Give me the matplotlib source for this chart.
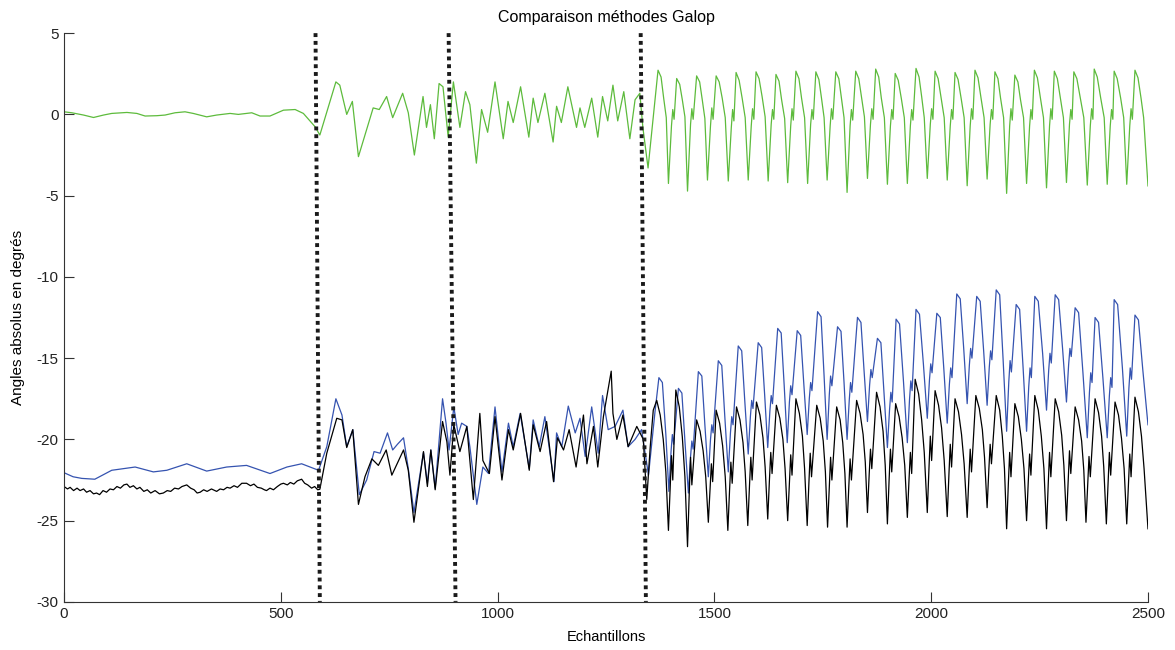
import matplotlib
matplotlib.use("Agg")
import matplotlib.pyplot as plt

# ---- data (samples, degrees) ----
# green: calm phase, transition phase, gallop phase
green_x_calm = [0, 18, 45, 68, 91, 110, 145, 168, 187, 214, 233, 256, 279, 298, 329, 352,
                383, 402, 433, 452, 475, 506, 533, 552, 579, 590]
green_y_calm = [0.16, 0.10, -0.04, -0.19, -0.04, 0.06, 0.12, 0.06, -0.10, -0.08, -0.04, 0.10,
                0.16, 0.06, -0.15, -0.04, 0.06, 0.0, 0.10, -0.10, -0.10, 0.26, 0.30, 0.06, -0.76, -1.27]

green_x_mid = [627, 636, 652, 665, 679, 713, 727, 744, 758, 781, 794, 808, 828, 836, 845, 854,
               865, 874, 886, 898, 906, 913, 926, 936, 951, 963, 977, 994, 1013, 1024, 1036,
               1053, 1072, 1082, 1093, 1109, 1128, 1136, 1147, 1162, 1182, 1190, 1201, 1217,
               1231, 1242, 1254, 1266, 1277, 1291, 1305, 1317, 1328, 1335, 1347]
green_y_mid = [2.0, 1.8, 0.0, 0.8, -2.6, 0.4, 0.3, 1.1, -0.2, 1.3, 0.1, -2.5, 1.1, -0.8, 0.6, -1.5,
               1.9, 1.7, -1.4, 2.0, 0.5, -0.8, 1.4, 0.6, -3.0, 0.3, -1.1, 2.0, -1.5, 0.8, -0.5,
               1.7, -1.4, 1.0, -0.5, 1.3, -1.7, 0.5, -0.5, 1.7, -0.8, 0.4, -0.8, 1.0,
               -1.4, 1.1, -0.4, 1.8, -0.4, 1.4, -1.5, 0.9, 1.3, -0.8, -3.3]

green_x_gallop = [
    1370, 1377, 1383, 1389, 1394, 1401, 1404, 1407,
    1413, 1420, 1426, 1432, 1438, 1445, 1448, 1451,
    1459, 1466, 1472, 1478, 1484, 1491, 1494, 1497,
    1504, 1511, 1518, 1525, 1532, 1539, 1542, 1545,
    1550, 1557, 1564, 1571, 1578, 1585, 1588, 1591,
    1596, 1603, 1610, 1617, 1624, 1631, 1634, 1637,
    1642, 1649, 1655, 1662, 1669, 1676, 1679, 1682,
    1688, 1695, 1701, 1708, 1715, 1722, 1725, 1728,
    1734, 1741, 1747, 1753, 1760, 1767, 1770, 1773,
    1780, 1787, 1793, 1799, 1806, 1813, 1816, 1819,
    1826, 1833, 1839, 1846, 1853, 1860, 1863, 1866,
    1872, 1879, 1885, 1892, 1899, 1906, 1909, 1912,
    1917, 1924, 1931, 1938, 1945, 1952, 1955, 1958,
    1965, 1972, 1978, 1984, 1991, 1998, 2001, 2004,
    2009, 2016, 2023, 2030, 2037, 2044, 2047, 2050,
    2055, 2062, 2069, 2076, 2083, 2090, 2093, 2096,
    2101, 2108, 2115, 2122, 2129, 2136, 2139, 2142,
    2147, 2154, 2160, 2167, 2174, 2181, 2184, 2187,
    2193, 2200, 2206, 2213, 2220, 2227, 2230, 2233,
    2238, 2245, 2252, 2259, 2266, 2273, 2276, 2279,
    2284, 2291, 2298, 2305, 2312, 2319, 2322, 2325,
    2329, 2336, 2344, 2352, 2360, 2367, 2370, 2373,
    2376, 2383, 2391, 2399, 2406, 2413, 2416, 2419,
    2422, 2429, 2437, 2444, 2451, 2458, 2461, 2464,
    2470, 2477, 2484, 2490, 2500]
green_y_gallop = [
    2.72, 2.30, 1.00, -0.20, -4.25, -0.70, 0.30, -0.30,
    2.21, 1.85, 0.90, -0.15, -4.72, -0.60, 0.35, -0.30,
    2.37, 2.00, 0.90, -0.25, -4.04, -0.70, 0.40, -0.30,
    2.37, 2.00, 1.00, -0.20, -4.10, -0.80, 0.30, -0.40,
    2.58, 2.10, 1.00, -0.20, -4.04, -0.70, 0.35, -0.30,
    2.62, 2.20, 1.10, -0.15, -4.10, -0.60, 0.30, -0.30,
    2.46, 2.05, 0.90, -0.25, -4.20, -0.70, 0.35, -0.35,
    2.66, 2.20, 1.00, -0.20, -4.25, -0.60, 0.30, -0.30,
    2.62, 2.15, 1.00, -0.20, -4.04, -0.70, 0.35, -0.30,
    2.62, 2.20, 1.00, -0.20, -4.80, -0.70, 0.30, -0.35,
    2.66, 2.20, 1.10, -0.15, -3.94, -0.60, 0.35, -0.30,
    2.79, 2.30, 1.00, -0.20, -4.30, -0.70, 0.30, -0.30,
    2.52, 2.10, 1.00, -0.20, -4.25, -0.70, 0.30, -0.35,
    2.83, 2.30, 1.10, -0.20, -3.94, -0.60, 0.35, -0.30,
    2.66, 2.20, 1.00, -0.20, -4.04, -0.70, 0.30, -0.30,
    2.58, 2.15, 1.00, -0.20, -4.39, -0.70, 0.35, -0.30,
    2.72, 2.25, 1.00, -0.20, -3.98, -0.60, 0.30, -0.30,
    2.62, 2.20, 1.00, -0.20, -4.86, -0.70, 0.35, -0.35,
    2.42, 2.00, 0.90, -0.20, -4.25, -0.70, 0.30, -0.30,
    2.72, 2.25, 1.00, -0.20, -4.52, -0.70, 0.35, -0.30,
    2.66, 2.20, 1.00, -0.20, -4.19, -0.60, 0.30, -0.30,
    2.62, 2.20, 1.00, -0.20, -4.35, -0.70, 0.35, -0.30,
    2.79, 2.30, 1.00, -0.20, -4.30, -0.70, 0.30, -0.30,
    2.66, 2.20, 1.00, -0.20, -4.30, -0.70, 0.35, -0.30,
    2.72, 2.25, 1.00, -0.20, -4.40]

# blue
blue_x_calm = [0, 21, 41, 71, 110, 164, 206, 237, 283, 329, 375, 421, 475, 514, 548, 587]
blue_y_calm = [-22.05, -22.3, -22.4, -22.45, -21.9, -21.7, -22.0, -21.9, -21.5, -21.95,
               -21.7, -21.6, -22.1, -21.7, -21.5, -21.9]

blue_x_mid = [606, 627, 641, 652, 666, 681, 698, 715, 729, 746, 758, 769, 783, 794, 807, 829,
              838, 846, 856, 873, 881, 888, 899, 909, 917, 929, 936, 952, 966, 979, 994, 1010,
              1025, 1036, 1052, 1073, 1082, 1096, 1109, 1130, 1136, 1148, 1163, 1179, 1190,
              1202, 1217, 1232, 1242, 1255, 1271, 1289, 1301, 1317, 1332, 1348, 1363]
blue_y_mid = [-20.45, -17.5, -18.5, -20.45, -19.4, -23.4, -22.5, -20.75, -20.85, -19.6, -20.65,
              -20.3, -19.9, -21.8, -24.5, -20.8, -22.7, -20.65, -23.0, -17.5, -19.0, -20.65,
              -18.0, -19.7, -19.0, -19.2, -20.45, -24.0, -21.7, -22.1, -18.0, -22.0, -19.0,
              -20.45, -18.4, -21.8, -18.8, -20.45, -18.6, -22.6, -19.6, -20.45, -17.95,
              -19.6, -18.7, -21.05, -18.0, -20.85, -17.3, -19.4, -19.2, -18.2, -20.45,
              -20.0, -19.4, -22.2, -18.3]

blue_x_gallop = [
    1372, 1380, 1388, 1395, 1400, 1403, 1406,
    1417, 1425, 1432, 1440, 1445, 1448, 1451,
    1463, 1471, 1478, 1486, 1491, 1494, 1497,
    1509, 1517, 1524, 1532, 1537, 1540, 1543,
    1555, 1563, 1570, 1578, 1583, 1586, 1589,
    1601, 1609, 1616, 1623, 1628, 1631, 1634,
    1646, 1654, 1661, 1668, 1673, 1676, 1679,
    1691, 1699, 1706, 1714, 1719, 1722, 1725,
    1738, 1746, 1753, 1760, 1765, 1768, 1771,
    1784, 1792, 1799, 1806, 1811, 1814, 1817,
    1830, 1838, 1845, 1853, 1858, 1861, 1864,
    1876, 1884, 1891, 1899, 1904, 1907, 1910,
    1919, 1927, 1936, 1945, 1950, 1953, 1956,
    1965, 1973, 1982, 1991, 1996, 1999, 2002,
    2013, 2021, 2029, 2037, 2042, 2045, 2048,
    2059, 2067, 2075, 2083, 2088, 2091, 2094,
    2105, 2113, 2121, 2129, 2134, 2137, 2140,
    2150, 2158, 2166, 2174, 2179, 2182, 2185,
    2196, 2204, 2212, 2220, 2225, 2228, 2231,
    2239, 2247, 2257, 2266, 2271, 2274, 2277,
    2286, 2294, 2303, 2312, 2317, 2320, 2323,
    2332, 2340, 2350, 2360, 2365, 2368, 2371,
    2378, 2386, 2396, 2406, 2411, 2414, 2417,
    2422, 2430, 2441, 2451, 2456, 2459, 2462,
    2470, 2478, 2488, 2500]
blue_y_gallop = [
    -16.2, -16.5, -19.7, -23.2, -20.75, -19.7, -20.3,
    -16.86, -17.15, -20.1, -23.3, -21.05, -20.1, -20.6,
    -15.83, -16.1, -19.1, -22.3, -20.0, -19.1, -19.6,
    -15.16, -15.45, -18.6, -22.0, -19.6, -18.6, -19.1,
    -14.25, -14.55, -17.6, -20.9, -18.6, -17.6, -18.1,
    -14.05, -14.35, -17.3, -20.5, -18.25, -17.3, -17.8,
    -13.17, -13.45, -16.7, -20.2, -17.7, -16.7, -17.25,
    -13.31, -13.6, -16.5, -19.7, -17.45, -16.5, -17.0,
    -12.14, -12.45, -16.1, -20.0, -17.25, -16.1, -16.7,
    -13.07, -13.35, -16.5, -20.0, -17.6, -16.5, -17.1,
    -12.49, -12.8, -15.7, -18.9, -16.65, -15.7, -16.2,
    -13.78, -14.05, -17.1, -20.5, -18.15, -17.1, -17.7,
    -12.6, -12.9, -16.4, -20.2, -17.55, -16.4, -17.0,
    -12.0, -12.3, -15.35, -18.7, -16.35, -15.35, -15.9,
    -12.24, -12.5, -15.6, -19.0, -16.6, -15.6, -16.2,
    -11.05, -11.35, -14.4, -17.8, -15.45, -14.4, -15.0,
    -11.2, -11.5, -14.55, -17.9, -15.55, -14.55, -15.1,
    -10.8, -11.1, -15.15, -19.5, -16.45, -15.15, -15.85,
    -11.7, -12.0, -15.6, -19.5, -16.75, -15.6, -16.2,
    -11.2, -11.5, -14.7, -18.2, -15.75, -14.7, -15.3,
    -11.1, -11.4, -14.4, -17.7, -15.4, -14.4, -14.9,
    -11.9, -12.2, -15.9, -19.9, -17.1, -15.9, -16.5,
    -12.5, -12.8, -16.2, -19.9, -17.3, -16.2, -16.8,
    -11.4, -11.7, -15.6, -19.8, -16.85, -15.6, -16.3,
    -12.35, -12.65, -15.7, -19.1]

# black
black_x_calm = [0, 8, 14, 22, 30, 37, 45, 52, 60, 68, 75, 82, 90, 98, 106, 114, 122, 130, 138,
                145, 152, 160, 168, 175, 184, 192, 200, 210, 220, 229, 238, 246, 255, 264, 272,
                283, 292, 300, 307, 314, 322, 330, 340, 352, 360, 368, 376, 383, 392, 400, 410,
                421, 430, 438, 446, 455, 462, 467, 475, 483, 492, 500, 506, 515, 522, 530, 538,
                548, 555, 562, 571, 578, 585, 590]
black_y_calm = [-22.9, -23.05, -22.95, -23.15, -23.0, -23.15, -23.05, -23.25, -23.15, -23.35,
                -23.3, -23.4, -23.15, -23.25, -23.05, -23.1, -22.9, -23.0, -22.8, -22.75,
                -22.95, -22.85, -23.05, -22.95, -23.2, -23.1, -23.3, -23.15, -23.35, -23.3,
                -23.15, -23.2, -23.0, -23.05, -22.9, -22.8, -23.0, -23.1, -23.3, -23.25,
                -23.1, -23.2, -23.05, -23.2, -23.05, -23.1, -22.95, -23.0, -22.85, -22.95,
                -22.7, -22.7, -22.85, -22.75, -22.95, -23.0, -23.1, -23.15, -23.0, -23.1,
                -22.9, -22.75, -22.7, -22.8, -22.65, -22.75, -22.55, -22.45, -22.7, -22.8,
                -23.0, -22.9, -23.1, -23.07]

black_x_mid = [606, 629, 641, 652, 666, 679, 694, 710, 725, 743, 756, 783, 794, 807, 829, 838,
               846, 856, 873, 883, 890, 899, 913, 929, 944, 959, 966, 981, 994, 1010, 1025,
               1036, 1053, 1073, 1082, 1098, 1113, 1129, 1138, 1152, 1165, 1181, 1198, 1206,
               1221, 1231, 1244, 1262, 1266, 1275, 1289, 1301, 1321, 1336, 1344, 1352, 1359]
black_y_mid = [-20.85, -18.7, -18.8, -20.5, -19.4, -24.0, -22.3, -21.2, -21.6, -20.65, -22.2,
               -20.65, -21.9, -25.1, -20.75, -22.9, -20.65, -23.1, -18.9, -20.15, -22.2, -19.1,
               -20.75, -19.2, -23.7, -18.4, -21.3, -22.1, -18.6, -22.5, -19.4, -20.65, -18.4,
               -21.9, -19.1, -20.75, -18.9, -22.6, -19.9, -20.65, -19.4, -21.7, -18.5, -21.5,
               -19.2, -21.7, -18.6, -15.8, -18.4, -20.0, -18.5, -20.45, -19.2, -20.0, -23.7,
               -20.45, -18.2]

black_x_gallop = [
    1367, 1375, 1382, 1388, 1394, 1398, 1401, 1404,
    1411, 1419, 1426, 1432, 1438, 1442, 1445, 1448,
    1459, 1467, 1474, 1480, 1486, 1490, 1493, 1496,
    1504, 1512, 1519, 1525, 1531, 1535, 1538, 1541,
    1551, 1559, 1566, 1571, 1577, 1581, 1584, 1587,
    1597, 1605, 1612, 1617, 1623, 1627, 1630, 1633,
    1643, 1651, 1658, 1663, 1669, 1673, 1676, 1679,
    1688, 1696, 1703, 1708, 1714, 1718, 1721, 1724,
    1736, 1744, 1751, 1756, 1761, 1765, 1768, 1771,
    1782, 1790, 1796, 1801, 1806, 1810, 1813, 1816,
    1828, 1836, 1843, 1848, 1853, 1857, 1860, 1863,
    1874, 1882, 1889, 1894, 1899, 1903, 1906, 1909,
    1918, 1926, 1933, 1939, 1945, 1949, 1952, 1955,
    1963, 1971, 1978, 1984, 1991, 1995, 1998, 2001,
    2009, 2017, 2024, 2030, 2037, 2041, 2044, 2047,
    2055, 2063, 2070, 2076, 2083, 2087, 2090, 2093,
    2103, 2111, 2118, 2123, 2129, 2133, 2136, 2139,
    2150, 2158, 2164, 2169, 2174, 2178, 2181, 2184,
    2193, 2201, 2208, 2214, 2220, 2224, 2227, 2230,
    2239, 2247, 2254, 2260, 2266, 2270, 2273, 2276,
    2286, 2294, 2301, 2306, 2312, 2316, 2319, 2322,
    2332, 2340, 2347, 2352, 2357, 2361, 2364, 2367,
    2378, 2386, 2393, 2398, 2404, 2408, 2411, 2414,
    2424, 2432, 2439, 2445, 2451, 2455, 2458, 2461,
    2470, 2478, 2485, 2491, 2500]
black_y_gallop = [
    -17.6, -18.5, -20.0, -22.0, -25.6, -22.9, -21.0, -22.5,
    -16.96, -18.0, -19.85, -22.3, -26.6, -23.3, -21.1, -22.8,
    -18.8, -19.5, -20.7, -22.3, -25.1, -23.0, -21.5, -22.6,
    -18.2, -19.0, -20.4, -22.3, -25.6, -23.1, -21.4, -22.7,
    -18.0, -18.8, -20.2, -22.0, -25.3, -22.8, -21.1, -22.5,
    -17.7, -18.5, -19.9, -21.7, -24.9, -22.45, -20.8, -22.1,
    -17.9, -18.7, -20.0, -21.8, -25.0, -22.6, -20.95, -22.2,
    -17.5, -18.4, -19.8, -21.8, -25.3, -22.65, -20.85, -22.3,
    -17.9, -18.7, -20.1, -22.0, -25.4, -22.85, -21.1, -22.5,
    -18.0, -18.8, -20.2, -22.1, -25.4, -22.9, -21.2, -22.5,
    -17.6, -18.4, -19.7, -21.4, -24.5, -22.15, -20.6, -21.8,
    -17.1, -18.0, -19.5, -21.6, -25.2, -22.45, -20.6, -22.0,
    -17.8, -18.6, -19.9, -21.6, -24.8, -22.4, -20.8, -22.1,
    -16.3, -17.2, -18.8, -20.8, -24.5, -21.7, -19.8, -21.3,
    -17.0, -17.9, -19.3, -21.3, -24.75, -22.1, -20.3, -21.7,
    -17.5, -18.3, -19.7, -21.5, -24.8, -22.3, -20.6, -22.0,
    -17.3, -18.1, -19.4, -21.1, -24.2, -21.85, -20.3, -21.5,
    -17.3, -18.2, -19.8, -21.8, -25.5, -22.7, -20.8, -22.3,
    -17.8, -18.6, -20.0, -21.8, -25.0, -22.55, -20.9, -22.2,
    -17.3, -18.2, -19.8, -21.8, -25.5, -22.7, -20.8, -22.3,
    -17.5, -18.3, -19.75, -21.6, -25.0, -22.45, -20.7, -22.1,
    -18.0, -18.8, -20.1, -21.9, -25.1, -22.7, -21.05, -22.3,
    -17.5, -18.35, -19.8, -21.7, -25.2, -22.6, -20.8, -22.2,
    -17.7, -18.5, -19.95, -21.8, -25.2, -22.65, -20.9, -22.3,
    -17.4, -18.3, -19.8, -21.8, -25.5]

# phase separators: x at top (y=5) and at bottom (y=-30)
sep_x_top = [580, 887, 1330]
sep_x_bottom = [590, 903, 1342]

plt.rcParams['font.family'] = ['Liberation Sans', 'DejaVu Sans']
plt.rcParams['axes.unicode_minus'] = False

fig = plt.figure(figsize=(11.75, 6.5), dpi=100)
ax = fig.add_axes([0.0545, 0.074, 0.9225, 0.875])

ax.plot(green_x_calm + green_x_mid + green_x_gallop,
        green_y_calm + green_y_mid + green_y_gallop, color='#5dbb3c', lw=0.9)
ax.plot(blue_x_calm + blue_x_mid + blue_x_gallop,
        blue_y_calm + blue_y_mid + blue_y_gallop, color='#3553b0', lw=0.9)
ax.plot(black_x_calm + black_x_mid + black_x_gallop,
        black_y_calm + black_y_mid + black_y_gallop, color='black', lw=0.9)

for xt, xb in zip(sep_x_top, sep_x_bottom):
    ax.plot([xt, xb], [5, -30], color='#1a1a1a', lw=2.8, linestyle=(0, (1, 1)),
            solid_capstyle='butt', dash_capstyle='butt', clip_on=False)

ax.set_xlim(0, 2500)
ax.set_ylim(-30, 5)
ax.set_xticks([0, 500, 1000, 1500, 2000, 2500])
ax.set_yticks([-30, -25, -20, -15, -10, -5, 0, 5])
ax.spines['top'].set_visible(False)
ax.spines['right'].set_visible(False)
for s in ['left', 'bottom']:
    ax.spines[s].set_color('#333333')
    ax.spines[s].set_linewidth(0.8)
ax.tick_params(direction='in', length=7.5, width=0.8, color='#333333',
               labelsize=11, labelcolor='#222222', pad=4)

ax.set_title('Comparaison méthodes Galop', fontsize=11.5, pad=8)
ax.set_xlabel('Echantillons', fontsize=10.5, labelpad=6)
ax.set_ylabel('Angles absolus en degrés', fontsize=11, labelpad=8)

fig.savefig('out.png', dpi=100)
